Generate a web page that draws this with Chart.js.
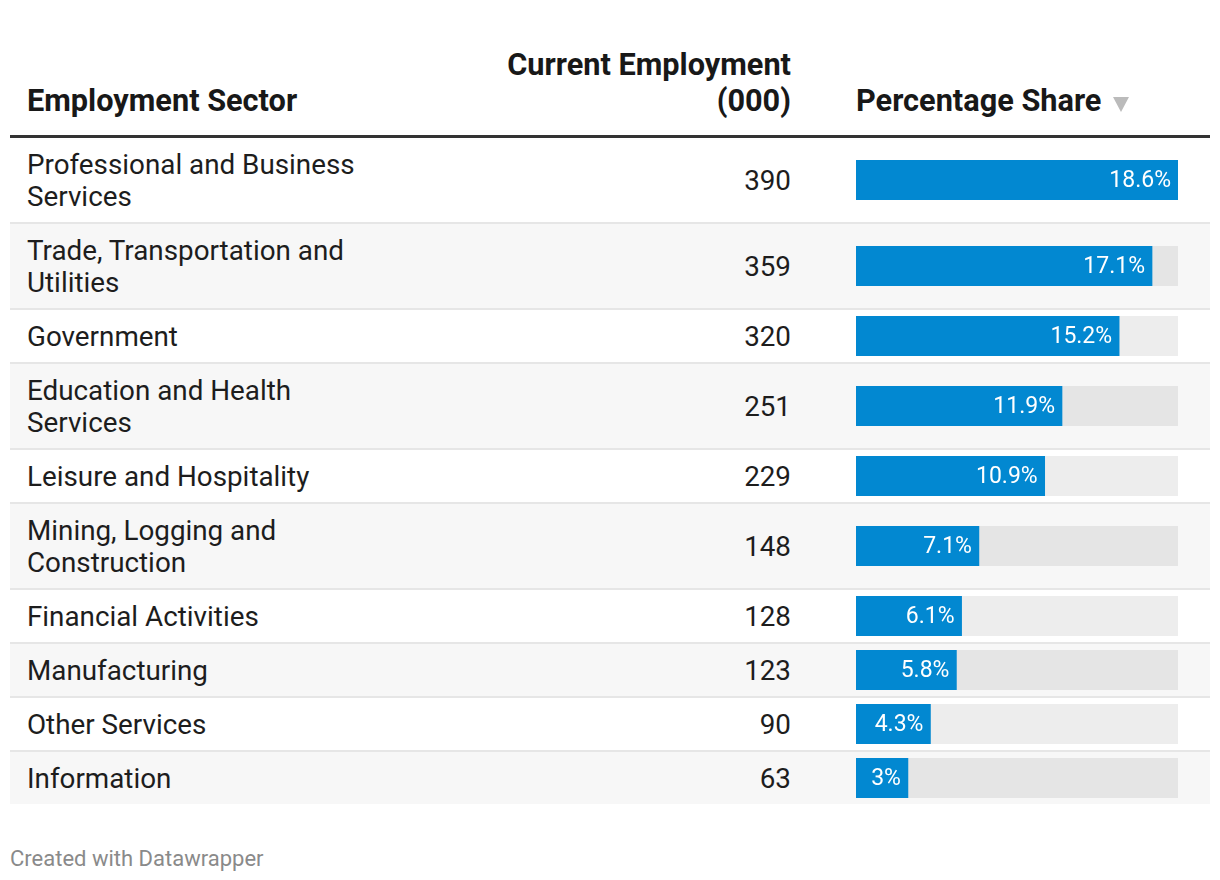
<!DOCTYPE html>
<html>
<head>
<meta charset="utf-8">
<script src="https://cdn.jsdelivr.net/npm/chart.js@4"></script>
<style>
  body { margin: 0; background: #fff; font-family: Roboto, sans-serif; color: #1d1d1d; }
  .wrap { width: 1200px; margin-left: 10px; padding-top: 41px; }
  table { width: 1200px; table-layout: fixed; border-collapse: collapse; }
  th { font-weight: 700; font-size: 30.7px; line-height: 36px; color: #181818;
       vertical-align: bottom; padding: 6px 0 16px 0; border-bottom: 3px solid #333; }
  td { font-size: 27.8px; line-height: 32px; padding: 11px 0 9px 0; vertical-align: middle; }
  tbody tr + tr td { border-top: 2px solid #e6e6e6; }
  tbody tr:nth-child(even) td { background: #f7f7f7; }
  .c1 { width: 400px; padding-left: 17px; padding-right: 33px; text-align: left; }
  .c2 { width: 397px; padding-right: 16px; text-align: right; }
  .c3 { width: 403px; padding-left: 49px; padding-right: 32px; text-align: left; }
  td.c3 { padding-top: 0; padding-bottom: 0; }
  .bar { position: relative; width: 322px; height: 40px; }
  .arrow { display: inline-block; width: 0; height: 0; margin-left: 12px;
           border-left: 8.5px solid transparent; border-right: 8.5px solid transparent;
           border-top: 15px solid #bbb; vertical-align: -1px; }
  .foot { margin-top: 42px; font-size: 22px; color: #8a8a8a; }
</style>
</head>
<body>
<div class="wrap">
  <table>
    <thead>
      <tr>
        <th class="c1" style="width:350px">Employment Sector</th>
        <th class="c2" style="width:381px">Current Employment<br>(000)</th>
        <th class="c3" style="width:322px">Percentage Share<span class="arrow"></span></th>
      </tr>
    </thead>
    <tbody id="rows"></tbody>
  </table>
  <div class="foot">Created with Datawrapper</div>
</div>
<script>
const sectors = [
  'Professional and Business Services',
  'Trade, Transportation and Utilities',
  'Government',
  'Education and Health Services',
  'Leisure and Hospitality',
  'Mining, Logging and Construction',
  'Financial Activities',
  'Manufacturing',
  'Other Services',
  'Information'
];
const employment = [390, 359, 320, 251, 229, 148, 128, 123, 90, 63];
const shares = [18.6, 17.1, 15.2, 11.9, 10.9, 7.1, 6.1, 5.8, 4.3, 3];

const maxShare = Math.max(...shares);
const tbody = document.getElementById('rows');

// label drawn inside the end of the blue bar
const barLabel = {
  id: 'barLabel',
  afterDatasetsDraw(chart) {
    const ctx = chart.ctx;
    const el = chart.getDatasetMeta(0).data[0];
    ctx.save();
    ctx.fillStyle = '#fff';
    ctx.font = '23px Roboto';
    ctx.textAlign = 'right';
    ctx.textBaseline = 'middle';
    ctx.fillText(chart.data.datasets[0].data[0] + '%', el.x - 7, el.y + 1);
    ctx.restore();
  }
};

sectors.forEach((name, i) => {
  const tr = document.createElement('tr');
  tr.innerHTML = `<td class="c1">${name}</td><td class="c2">${employment[i]}</td>` +
    `<td class="c3"><div class="bar"><canvas id="bar${i}"></canvas></div></td>`;
  tbody.appendChild(tr);

  new Chart(document.getElementById('bar' + i), {
    type: 'bar',
    data: {
      labels: [name],
      datasets: [
        { data: [shares[i]], backgroundColor: '#0288d1', grouped: false, barPercentage: 1, categoryPercentage: 1 },
        { data: [maxShare], backgroundColor: 'rgba(0,0,0,0.07)', grouped: false, barPercentage: 1, categoryPercentage: 1 }
      ]
    },
    options: {
      indexAxis: 'y',
      responsive: true,
      maintainAspectRatio: false,
      animation: false,
      events: [],
      layout: { padding: 0 },
      plugins: { legend: { display: false }, tooltip: { enabled: false } },
      scales: {
        x: { display: false, min: 0, max: maxShare },
        y: { display: false }
      }
    },
    plugins: [barLabel]
  });
});
</script>
</body>
</html>
